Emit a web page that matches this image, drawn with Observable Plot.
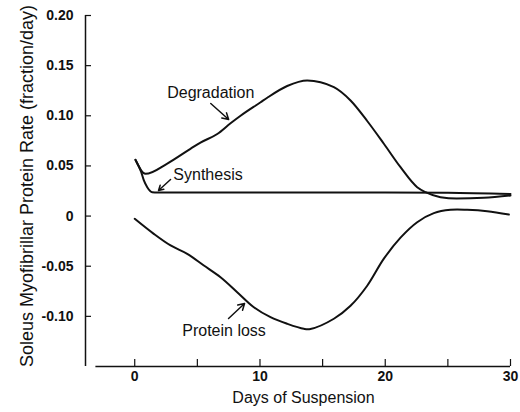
<!DOCTYPE html>
<html><head><meta charset="utf-8">
<script src="https://cdn.jsdelivr.net/npm/d3@7"></script>
<script src="https://cdn.jsdelivr.net/npm/@observablehq/plot@0.6"></script>
<style>body{margin:0;background:#fff}</style>
</head><body><div id="chart"></div>
<script>
// Degradation rate (fraction/day)
const degDays = [0.06, 0.86, 2.6, 4.45, 5.25, 6.59, 7.65, 8.45, 10.05, 10.58, 12.17, 13.77, 15.9, 17.23, 18.56, 19.89, 21.22, 22.55, 23.22, 24.41, 25.7, 27.87, 30];
const degRate = [0.0561, 0.0421, 0.0524, 0.0671, 0.0733, 0.0818, 0.0925, 0.1000, 0.1135, 0.1180, 0.1297, 0.1352, 0.1285, 0.1152, 0.0948, 0.0721, 0.0487, 0.0288, 0.0238, 0.0188, 0.0175, 0.0182, 0.0205];
// Synthesis rate
const synDays = [0.06, 0.52, 0.73, 1.0, 1.4, 1.8, 10, 20, 25, 30];
const synRate = [0.0561, 0.0437, 0.0355, 0.0288, 0.0238, 0.0235, 0.0235, 0.0235, 0.0232, 0.022];
// Protein loss
const lossDays = [0, 1.52, 2.86, 4.19, 5.52, 6.85, 8.18, 9.51, 10.84, 12.17, 13.5, 14.03, 15.9, 17.23, 18.56, 19.89, 21.22, 22.55, 23.88, 25.21, 26.54, 28.14, 29.87];
const lossRate = [-0.0027, -0.0177, -0.0293, -0.0376, -0.0493, -0.061, -0.0759, -0.0909, -0.1008, -0.1074, -0.1124, -0.1126, -0.1024, -0.0895, -0.0695, -0.0425, -0.0215, -0.0061, 0.0029, 0.0062, 0.0062, 0.0049, 0.0016];

// Axis ticks
const yTicks = [-0.10, -0.05, 0, 0.05, 0.10, 0.15, 0.20];
const xTicks = [0, 5, 10, 15, 20, 25, 30];
const xTickLabels = [0, 10, 20, 30];
const yTitle = "Soleus Myofibrillar Protein Rate (fraction/day)";
const xTitle = "Days of Suspension";

// Annotations (data coordinates)
const annLabels = ["Degradation", "Synthesis", "Protein loss"];
const annX = [6.07, 5.85, 7.13];
const annY = [0.1232, 0.0414, -0.114];
const arrX1 = [6.07, 2.86, 7.49];
const arrY1 = [0.1122, 0.0364, -0.1021];
const arrX2 = [7.5, 1.9, 8.77];
const arrY2 = [0.0963, 0.0255, -0.0872];

const toRows = (xs, ys) => xs.map((d, i) => ({day: d, rate: ys[i]}));
const deg = toRows(degDays, degRate);
const syn = toRows(synDays, synRate);
const loss = toRows(lossDays, lossRate);
const ann = annLabels.map((t, i) => ({t, x: annX[i], y: annY[i]}));
const arr = arrX1.map((d, i) => ({x1: d, y1: arrY1[i], x2: arrX2[i], y2: arrY2[i]}));

const xMin = -3.93;
const ink = "#111";
const fmtY = d => d === 0 ? "0" : d.toFixed(2);

const chart = Plot.plot({
  width: 520, height: 412,
  marginLeft: 85, marginRight: 10, marginTop: 15, marginBottom: 46,
  style: {fontFamily: "'Liberation Sans', Arial, sans-serif", fontSize: "14px", color: ink, background: "#fff"},
  x: {domain: [xMin, 30]},
  y: {domain: [-0.15, 0.20]},
  marks: [
    Plot.ruleX([xMin], {stroke: ink, strokeWidth: 1.5}),
    Plot.ruleY([-0.15], {x1: -3.1, x2: 30, stroke: ink, strokeWidth: 1.5}),
    Plot.axisY(yTicks, {tickSize: -6, tickPadding: 18, tickFormat: fmtY, label: null, stroke: ink, strokeWidth: 1.2, fontWeight: "bold"}),
    Plot.axisX(xTicks, {tickSize: -7, tickPadding: 12, tickFormat: d => xTickLabels.includes(d) ? String(d) : "", label: null, stroke: ink, strokeWidth: 1.2, fontWeight: "bold"}),
    Plot.text([yTitle], {frameAnchor: "left", textAnchor: "middle", rotate: -90, dx: -58, dy: -5, fontSize: 18, fill: ink}),
    Plot.text([xTitle], {frameAnchor: "bottom", textAnchor: "middle", dx: 5.5, dy: 36, fontSize: 16, fill: ink}),
    Plot.line(deg, {x: "day", y: "rate", curve: "monotone-x", stroke: ink, strokeWidth: 2}),
    Plot.line(syn, {x: "day", y: "rate", curve: "monotone-x", stroke: ink, strokeWidth: 2}),
    Plot.line(loss, {x: "day", y: "rate", curve: "catmull-rom", stroke: ink, strokeWidth: 2}),
    Plot.text(ann, {x: "x", y: "y", text: "t", fontSize: 16, fill: ink}),
    Plot.arrow(arr, {x1: "x1", y1: "y1", x2: "x2", y2: "y2", stroke: ink, strokeWidth: 1.5, headLength: 7})
  ]
});
document.getElementById("chart").append(chart);
</script>
</body></html>
